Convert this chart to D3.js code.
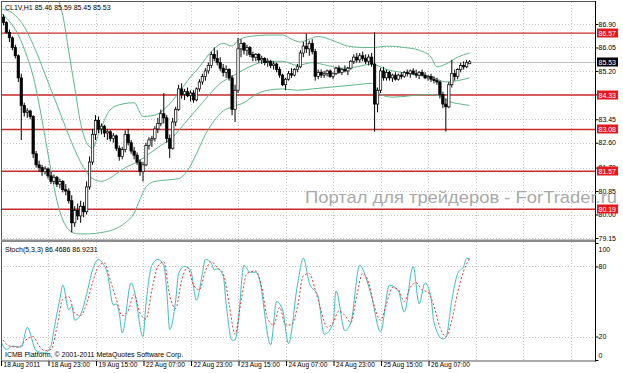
<!DOCTYPE html>
<html>
<head>
<meta charset="utf-8">
<style>
    body { margin: 0; background: #fff; }
    svg text { font-family: "Liberation Sans", Arial, sans-serif; }
    .axis text { font-size: 7px; fill: #000; }
    .axis line { stroke: #000; }
    .taxis text { font-size: 6.6px; }
    .grid line { stroke: #c4c4c4; stroke-dasharray: 1,2; }
</style>
<script src="https://d3js.org/d3.v7.min.js"></script>
</head>
<body>
<svg width="623" height="373"></svg>
<script>

// hourly candles CL1V,H1 (bar 0 = 18 Aug 07:00)
var opens  = [87.35,87.15,86.95,86.60,86.40,86.05,85.75,84.95,83.95,83.70, 83.75,83.55,82.20,81.80,81.70,81.55,81.65,81.40,81.20,81.35,
              81.10,81.20,80.90,80.85,80.50,79.70,80.15,79.95,80.30,80.10, 81.00,81.90,82.90,83.40,83.10,83.20,82.95,83.00,82.75,82.85,
              82.40,82.10,82.35,82.90,82.60,82.30,82.15,81.90,81.55,81.80, 82.50,82.70,82.75,83.10,83.30,83.65,83.50,82.75,82.40,83.35,
              83.80,84.55,84.35,84.45,84.30,84.40,84.15,84.55,84.80,85.00, 85.20,85.40,85.80,85.65,85.50,85.30,85.15,85.25,84.95,83.80,
              84.50,86.00,86.20,85.95,86.05,85.80,85.70,85.80,85.60,85.65, 85.50,85.55,85.40,85.45,85.25,85.05,84.70,84.90,85.10,85.05,
              85.25,85.35,85.85,86.10,86.00,86.20,85.90,85.00,85.15,85.05, 85.10,85.20,85.00,85.10,85.30,85.15,85.25,85.20,85.30,85.55,
              85.70,85.60,85.75,85.65,85.55,85.70,85.45,84.00,84.50,85.20, 84.95,85.15,84.95,85.05,84.90,85.05,85.00,85.15,85.10,85.20,
              85.10,85.05,85.15,85.05,84.95,85.00,84.90,84.85,84.80,84.35, 84.00,83.90,84.70,85.10,85.00,85.25,85.40,85.35,85.46];
var highs  = [87.50,87.25,87.00,86.70,86.45,86.15,85.80,85.10,84.05,83.85, 83.80,83.60,82.30,81.95,81.80,81.75,81.70,81.55,81.45,81.40,
              81.30,81.25,81.10,80.95,80.70,80.30,80.40,80.50,80.45,81.20, 82.10,83.10,83.60,83.55,83.30,83.25,83.10,83.05,82.95,82.90,
              82.50,82.45,83.05,83.10,82.70,82.45,82.25,82.00,81.90,82.60, 82.80,82.85,83.20,83.50,83.80,84.40,83.60,82.90,83.50,83.90,
              84.70,84.75,84.55,84.60,84.50,84.50,84.60,84.90,85.10,85.30, 85.50,85.90,86.05,85.95,85.70,85.45,85.40,85.30,85.05,84.70,
              86.40,86.35,86.25,86.15,86.10,85.90,85.85,85.85,85.75,85.70, 85.65,85.60,85.55,85.50,85.35,85.10,84.95,85.20,85.30,85.30,
              85.45,85.95,86.25,86.55,86.30,86.35,86.00,85.25,85.25,85.20, 85.25,85.25,85.15,85.35,85.40,85.30,85.40,85.35,85.60,85.80,
              85.85,85.85,85.90,85.80,85.80,85.85,86.60,84.60,85.30,85.35, 85.25,85.20,85.10,85.15,85.10,85.15,85.20,85.25,85.25,85.30,
              85.25,85.20,85.25,85.15,85.05,85.10,85.00,84.95,84.85,84.45, 84.20,84.80,85.60,85.25,85.30,85.50,85.55,85.60,85.59];
var lows   = [87.10,86.85,86.55,86.25,85.95,85.65,84.80,82.70,83.55,83.50, 83.45,82.05,81.70,81.55,81.40,81.45,81.30,81.10,81.10,81.00,
              80.95,80.80,80.70,80.40,79.35,79.55,79.80,79.70,79.90,80.00, 80.90,81.80,82.70,82.95,82.90,82.80,82.70,82.65,82.60,82.30,
              81.95,82.00,82.25,82.50,82.20,82.00,81.80,81.40,81.20,81.75, 82.35,82.45,82.65,82.95,83.20,83.30,82.60,82.05,82.35,83.20,
              83.75,84.20,84.15,84.25,84.10,84.05,84.10,84.45,84.70,84.85, 85.10,85.30,85.55,85.40,85.20,85.00,84.95,84.85,83.60,83.35,
              84.40,85.70,85.80,85.75,85.70,85.55,85.55,85.50,85.45,85.40, 85.35,85.30,85.25,85.15,84.95,84.65,84.50,84.85,84.95,85.00,
              85.15,85.30,85.70,85.85,85.75,85.80,84.85,84.90,84.95,84.95, 85.00,84.95,84.90,85.05,85.10,85.05,85.15,85.05,85.25,85.45,
              85.50,85.50,85.55,85.45,85.40,85.35,83.00,83.70,84.40,84.85, 84.85,84.85,84.80,84.85,84.85,84.90,84.95,85.00,84.95,85.05,
              84.95,84.90,85.00,84.90,84.85,84.80,84.75,84.70,84.20,83.85, 83.00,83.85,84.60,84.85,84.90,85.15,85.25,85.30,85.45];
var closes = [87.15,86.95,86.60,86.40,86.05,85.75,84.95,83.95,83.70,83.75, 83.55,82.20,81.80,81.70,81.55,81.65,81.40,81.20,81.35,81.10,
              81.20,80.90,80.85,80.50,79.70,80.15,79.95,80.30,80.10,81.00, 81.90,82.90,83.40,83.10,83.20,82.95,83.00,82.75,82.85,82.40,
              82.10,82.35,82.90,82.60,82.30,82.15,81.90,81.55,81.80,82.50, 82.70,82.75,83.10,83.30,83.65,83.50,82.75,82.40,83.35,83.80,
              84.55,84.35,84.45,84.30,84.40,84.15,84.55,84.80,85.00,85.20, 85.40,85.80,85.65,85.50,85.30,85.15,85.25,84.95,83.80,84.50,
              86.00,86.20,85.95,86.05,85.80,85.70,85.80,85.60,85.65,85.50, 85.55,85.40,85.45,85.25,85.05,84.70,84.90,85.10,85.05,85.25,
              85.35,85.85,86.10,86.00,86.20,85.90,85.00,85.15,85.05,85.10, 85.20,85.00,85.10,85.30,85.15,85.25,85.20,85.30,85.55,85.70,
              85.60,85.75,85.65,85.55,85.70,85.45,84.00,84.50,85.20,84.95, 85.15,84.95,85.05,84.90,85.05,85.00,85.15,85.10,85.20,85.10,
              85.05,85.15,85.05,84.95,85.00,84.90,84.85,84.80,84.35,84.00, 83.90,84.70,85.10,85.00,85.25,85.40,85.35,85.50,85.53];

// Bollinger bands (bar index, price)
var upperIdx  = [19,21,23,25,27,29,31,33,37,41,45,48,52,56,60,63,67,71,75,78,80,84,90,95,98,101,104,107,112,117,122,126,130,136,141,145,147,150,154,158];
var upperBand = [87.9,87.2,85.9,84.6,83.3,82.6,82.4,82.9,83.8,84.0,84.05,83.55,83.6,83.9,84.4,84.85,85.35,85.9,86.2,86.1,86.3,86.45,86.5,86.5,86.35,86.25,86.35,86.45,86.3,86.1,86.05,86.05,86.1,86.05,85.95,85.7,85.35,85.45,85.7,85.85];
var midIdx    = [0,4,8,12,16,20,24,28,31,34,38,42,46,50,54,58,62,66,70,74,78,82,86,90,95,100,105,110,115,120,125,130,135,140,145,150,154,158];
var midBand   = [87.45,87.3,86.8,85.9,84.8,83.7,82.6,81.7,81.3,81.2,81.4,81.7,81.9,82.2,82.5,82.8,83.3,83.8,84.3,84.75,85.0,85.25,85.45,85.55,85.55,85.4,85.5,85.4,85.3,85.35,85.45,85.25,85.15,85.05,85.0,84.8,84.85,84.95];
var lowIdx    = [0,3,6,9,11,13,15,17,19,21,23,26,30,34,38,42,45,47,49,52,56,60,63,66,69,72,75,78,82,86,90,95,100,105,110,115,120,125,128,132,138,144,148,151,155,158];
var lowBand   = [87.3,87.0,86.5,85.7,85.0,84.0,82.8,81.6,80.5,79.8,79.45,79.3,79.3,79.35,79.45,79.7,80.05,80.55,81.0,81.2,81.25,81.3,81.6,82.2,82.9,83.4,83.75,83.9,84.05,84.35,84.5,84.55,84.5,84.55,84.6,84.65,84.7,84.75,84.35,84.25,84.3,84.35,84.3,84.1,84.0,83.95];

// Stochastic (5,3,3)
var kIdx  = [0,2,4,7,9,12,15,17,18,20,21,23,24,25,27,29,31,33,34,36,38,39,40,41,44,45,48,49,51,53,55,56,57,59,60,62,64,66,68,69,71,72,73,75,76,78,79,80,82,84,86,87,91,93,95,97,100,102,104,107,109,112,113,116,118,121,123,125,128,131,134,136,139,141,143,145,146,149,150,152,154,156,157,158];
var kVals = [17,9,12,11,28,8,6,12,26,52,64,43,46,34,39,56,77,86,84,74,47,48,40,23,66,60,20,48,81,86,81,59,26,51,74,80,77,51,74,86,83,77,78,72,48,17,17,31,81,75,75,71,13,50,43,14,64,87,66,54,22,31,59,25,32,81,71,54,24,64,59,41,80,48,66,53,32,18,19,51,74,80,87,86.5];
var dIdx  = [0,3,6,9,11,13,15,17,19,21,23,25,27,29,31,33,35,37,39,41,43,45,47,49,51,53,55,57,59,61,63,65,67,69,71,73,75,77,79,81,83,86,88,90,92,94,96,98,100,102,104,106,108,110,112,114,116,118,120,122,124,126,128,130,132,134,136,138,140,142,144,146,148,150,152,154,156,158];
var dVals = [20,12,11,18,20,12,8,9,28,52,54,40,38,48,66,80,83,68,52,38,42,56,40,35,60,80,84,55,44,68,79,64,60,76,84,79,74,48,22,50,74,76,62,35,30,45,30,30,45,72,74,60,42,28,32,42,38,32,55,74,66,45,34,48,62,60,50,62,66,60,58,46,28,20,34,58,76,86.9];

var priceTicks = [86.90,86.05,85.20,84.35,83.45,82.60,81.70,80.85,80.00,79.15];
var levels     = [86.57,84.33,83.08,81.57,80.19];
var lastPrice  = 85.53;
var stochTicks = [100,80,20,0];
var stochGrid  = [80,20];
var timeLabels = ["18 Aug 2011","18 Aug 23:00","19 Aug 15:00","22 Aug 07:00","22 Aug 23:00",
                  "23 Aug 15:00","24 Aug 07:00","24 Aug 23:00","25 Aug 15:00","26 Aug 07:00"];
var labelBars  = [0,16,32,48,64,80,96,112,128,144];

var svg = d3.select("svg");
var L = 1, R = 595.5, mainTop = 2, mainBot = 239, stTop = 242.5, stBot = 361;

var x  = d3.scaleLinear().domain([0, 200]).range([0.5, 0.5 + 200 * 2.969]);
var y  = d3.scaleLinear().domain([79.15, 86.90]).range([238, 24]);
var ys = d3.scaleLinear().domain([0, 100]).range([360, 243]);

var defs = svg.append("defs");
defs.append("clipPath").attr("id", "cm").append("rect")
    .attr("x", L).attr("y", mainTop).attr("width", R - L).attr("height", mainBot - mainTop);
defs.append("clipPath").attr("id", "cs").append("rect")
    .attr("x", L).attr("y", stTop).attr("width", R - L).attr("height", stBot - stTop);

// grid
var gridBars = d3.range(0, 200, 16);
var grid = svg.append("g").attr("class", "grid");
grid.selectAll(".vg").data(gridBars).enter().append("line")
    .attr("x1", d => Math.round(x(d)) + 0.5).attr("x2", d => Math.round(x(d)) + 0.5)
    .attr("y1", mainTop).attr("y2", stBot);
grid.selectAll(".hg").data(priceTicks).enter().append("line")
    .attr("x1", L).attr("x2", R).attr("y1", d => Math.round(y(d)) + 0.5).attr("y2", d => Math.round(y(d)) + 0.5);
grid.selectAll(".sg").data(stochGrid).enter().append("line")
    .attr("x1", L).attr("x2", R).attr("y1", d => Math.round(ys(d)) + 0.5).attr("y2", d => Math.round(ys(d)) + 0.5);

var main = svg.append("g").attr("clip-path", "url(#cm)");

// bid line
main.append("line").attr("x1", L).attr("x2", R)
    .attr("y1", Math.round(y(lastPrice)) + 0.5).attr("y2", Math.round(y(lastPrice)) + 0.5)
    .attr("stroke", "#c0c0c0");

// support / resistance lines
main.selectAll(".lvl").data(levels).enter().append("line")
    .attr("x1", L).attr("x2", R).attr("y1", d => y(d)).attr("y2", d => y(d))
    .attr("stroke", "#c92a2a").attr("stroke-width", 1.4);

// bollinger
var band = d3.line().x(d => x(d[0])).y(d => y(d[1])).curve(d3.curveMonotoneX);
[[upperIdx, upperBand], [midIdx, midBand], [lowIdx, lowBand]].forEach(function(b) {
    main.append("path").datum(d3.zip(b[0], b[1]))
        .attr("d", band).attr("fill", "none").attr("stroke", "#5fb58a").attr("stroke-width", 1);
});

// candles
var bars = main.selectAll(".c").data(d3.range(closes.length)).enter().append("g");
bars.append("line")
    .attr("x1", i => x(i)).attr("x2", i => x(i))
    .attr("y1", i => y(highs[i])).attr("y2", i => y(lows[i]))
    .attr("stroke", "#000").attr("stroke-width", 1);
bars.append("rect")
    .attr("x", i => x(i) - 1.2).attr("width", 2.4)
    .attr("y", i => y(Math.max(opens[i], closes[i])))
    .attr("height", i => Math.max(1, Math.abs(y(opens[i]) - y(closes[i]))))
    .attr("fill", i => closes[i] >= opens[i] ? "#fff" : "#000")
    .attr("stroke", "#000").attr("stroke-width", 0.7);

// stochastic
var st = svg.append("g").attr("clip-path", "url(#cs)");
var sline = d3.line().x(d => x(d[0])).y(d => ys(d[1])).curve(d3.curveMonotoneX);
st.append("path").datum(d3.zip(kIdx, kVals)).attr("d", sline)
    .attr("fill", "none").attr("stroke", "#3fbcbc").attr("stroke-width", 1);
st.append("path").datum(d3.zip(dIdx, dVals)).attr("d", sline)
    .attr("fill", "none").attr("stroke", "#e03a3a").attr("stroke-width", 1).attr("stroke-dasharray", "2,2");

// frames
svg.append("rect").attr("x", L + 0.5).attr("y", 1.5).attr("width", R - L - 0.5).attr("height", stBot - 1.5)
    .attr("fill", "none").attr("stroke", "#555");
svg.append("rect").attr("x", L).attr("y", 239.5).attr("width", R - L).attr("height", 2.5).attr("fill", "#8c8c8c");
svg.append("line").attr("x1", R).attr("x2", R).attr("y1", 1).attr("y2", stBot + 0.5).attr("stroke", "#000");

// price axis
var pa = svg.append("g").attr("class", "axis").attr("transform", "translate(" + R + ",0)")
    .call(d3.axisRight(y).tickValues(priceTicks).tickFormat(d3.format(".2f")).tickSize(3).tickPadding(0));
pa.select(".domain").remove();

// level tags
var tags = svg.append("g");
levels.concat([lastPrice]).forEach(function(v, i) {
    var yy = Math.round(y(v));
    tags.append("rect").attr("x", 597).attr("y", yy - 4.5).attr("width", 21).attr("height", 9)
        .attr("fill", i < levels.length ? "#e5191b" : "#000");
    tags.append("text").attr("x", 598.5).attr("y", yy + 2.5).attr("font-size", "7px")
        .attr("fill", "#fff").text(v.toFixed(2));
});

// stoch axis
var sa = svg.append("g").attr("class", "axis").attr("transform", "translate(" + R + ",0)")
    .call(d3.axisRight(ys).tickValues(stochTicks).tickSize(3).tickPadding(0));
sa.select(".domain").remove();
sa.selectAll(".tick").filter(d => d === 100).select("text").attr("dy", "1.2em");
sa.selectAll(".tick").filter(d => d === 0).select("text").attr("dy", "-0.4em");

// time axis
var ta = svg.append("g").attr("class", "axis taxis").attr("transform", "translate(0," + stBot + ")")
    .call(d3.axisBottom(x).tickValues(labelBars).tickFormat((d, i) => timeLabels[i]).tickSize(5));
ta.select(".domain").remove();
ta.selectAll(".tick line").attr("transform", "translate(0.5,0)");
ta.selectAll("text").attr("x", 2.5).attr("y", 1.5).style("text-anchor", "start");

// captions
svg.append("text").attr("x", 5).attr("y", 10).attr("font-size", "7px")
    .text("CL1V,H1  85.46 85.59 85.45 85.53");
svg.append("text").attr("x", 5).attr("y", 252).attr("font-size", "7px")
    .text("Stoch(5,3,3) 86.4686 86.9231");
svg.append("text").attr("x", 5).attr("y", 357).attr("font-size", "7px")
    .text("ICMB Platform, \u00a9 2001-2011 MetaQuotes Software Corp.");

// watermark
svg.append("text").attr("x", 305).attr("y", 203).attr("font-size", "17px")
    .attr("fill", "#a9a9a9").attr("textLength", 312).attr("lengthAdjust", "spacingAndGlyphs")
    .text("Портал для трейдеров - ForTrader.ru");

</script>
</body>
</html>
